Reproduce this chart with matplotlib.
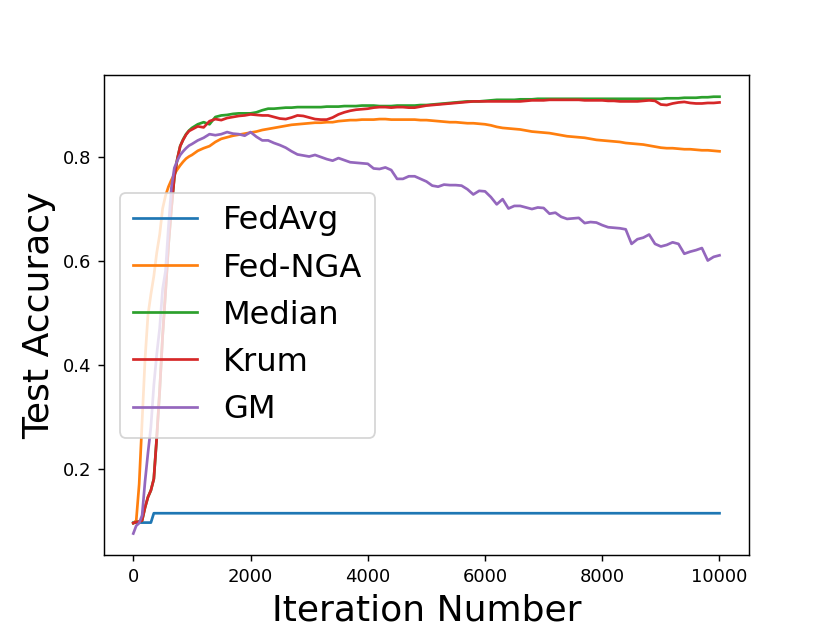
import matplotlib
matplotlib.use("Agg")
import matplotlib.pyplot as plt

iterations = list(range(0, 1000, 50)) + list(range(1000, 10001, 100))

fedavg = [0.096, 0.096, 0.096, 0.096, 0.096, 0.096, 0.096] + [0.114] * (len(iterations) - 7)

fed_nga = [0.095, 0.10, 0.17, 0.29, 0.41, 0.495, 0.535, 0.57, 0.615, 0.65,
           0.70, 0.725, 0.742, 0.755, 0.766, 0.775, 0.783, 0.79, 0.796, 0.80,
           0.803, 0.811, 0.816, 0.82, 0.828, 0.834, 0.837, 0.840, 0.842, 0.844,
           0.846, 0.848, 0.851, 0.853, 0.855, 0.857, 0.859, 0.861, 0.862, 0.863,
           0.864, 0.865, 0.865, 0.866, 0.866, 0.868, 0.869, 0.870, 0.870, 0.871,
           0.871, 0.871, 0.872, 0.872, 0.871, 0.871, 0.871, 0.871, 0.871, 0.870,
           0.870, 0.869, 0.868, 0.867, 0.866, 0.866, 0.865, 0.864, 0.864, 0.863,
           0.862, 0.860, 0.857, 0.855, 0.854, 0.853, 0.852, 0.850, 0.848, 0.847,
           0.846, 0.845, 0.843, 0.841, 0.839, 0.838, 0.837, 0.836, 0.834, 0.832,
           0.831, 0.830, 0.829, 0.828, 0.826, 0.825, 0.824, 0.823, 0.821, 0.819,
           0.817, 0.816, 0.816, 0.815, 0.814, 0.814, 0.813, 0.812, 0.812, 0.811,
           0.810]

median = [0.095, 0.097, 0.098, 0.10, 0.125, 0.145, 0.158, 0.18, 0.26, 0.35,
          0.455, 0.54, 0.63, 0.70, 0.76, 0.795, 0.82, 0.833, 0.843, 0.850,
          0.855, 0.862, 0.866, 0.862, 0.876, 0.879, 0.880, 0.882, 0.883, 0.883,
          0.883, 0.885, 0.889, 0.892, 0.892, 0.893, 0.894, 0.894, 0.895, 0.895,
          0.895, 0.895, 0.895, 0.896, 0.896, 0.896, 0.897, 0.897, 0.897, 0.898,
          0.898, 0.898, 0.897, 0.897, 0.897, 0.898, 0.898, 0.898, 0.898, 0.899,
          0.899, 0.900, 0.901, 0.902, 0.903, 0.904, 0.905, 0.906, 0.906, 0.906,
          0.907, 0.908, 0.909, 0.909, 0.909, 0.909, 0.910, 0.910, 0.910, 0.911,
          0.911, 0.911, 0.911, 0.911, 0.911, 0.911, 0.911, 0.911, 0.911, 0.911,
          0.911, 0.911, 0.911, 0.911, 0.911, 0.911, 0.911, 0.911, 0.911, 0.911,
          0.911, 0.912, 0.912, 0.912, 0.913, 0.913, 0.913, 0.914, 0.914, 0.915,
          0.915]

krum = [0.095, 0.097, 0.098, 0.10, 0.125, 0.145, 0.158, 0.18, 0.26, 0.35,
        0.455, 0.54, 0.63, 0.70, 0.76, 0.795, 0.82, 0.832, 0.842, 0.849,
        0.852, 0.858, 0.856, 0.868, 0.872, 0.870, 0.874, 0.876, 0.878, 0.879,
        0.881, 0.880, 0.879, 0.879, 0.876, 0.873, 0.872, 0.875, 0.879, 0.878,
        0.875, 0.872, 0.871, 0.871, 0.875, 0.881, 0.885, 0.888, 0.890, 0.891,
        0.892, 0.894, 0.895, 0.895, 0.894, 0.895, 0.895, 0.894, 0.894, 0.896,
        0.898, 0.899, 0.900, 0.901, 0.902, 0.903, 0.904, 0.905, 0.906, 0.906,
        0.906, 0.906, 0.906, 0.906, 0.906, 0.906, 0.906, 0.907, 0.908, 0.908,
        0.908, 0.909, 0.909, 0.909, 0.909, 0.909, 0.909, 0.908, 0.908, 0.908,
        0.908, 0.907, 0.907, 0.906, 0.906, 0.906, 0.906, 0.907, 0.908, 0.907,
        0.900, 0.899, 0.902, 0.904, 0.905, 0.903, 0.902, 0.902, 0.903, 0.903,
        0.904]

gm = [0.075, 0.09, 0.095, 0.11, 0.175, 0.23, 0.28, 0.36, 0.42, 0.47,
      0.545, 0.58, 0.665, 0.74, 0.778, 0.792, 0.803, 0.81, 0.816, 0.821,
      0.824, 0.831, 0.836, 0.843, 0.841, 0.843, 0.847, 0.844, 0.843, 0.840,
      0.847, 0.838, 0.831, 0.831, 0.826, 0.822, 0.817, 0.810, 0.804, 0.802,
      0.800, 0.803, 0.799, 0.795, 0.792, 0.797, 0.793, 0.789, 0.788, 0.787,
      0.786, 0.777, 0.776, 0.779, 0.774, 0.757, 0.757, 0.762, 0.762, 0.757,
      0.752, 0.744, 0.742, 0.746, 0.745, 0.745, 0.744, 0.737, 0.727, 0.734,
      0.733, 0.722, 0.708, 0.718, 0.700, 0.705, 0.705, 0.702, 0.699, 0.702,
      0.701, 0.690, 0.692, 0.684, 0.680, 0.681, 0.682, 0.672, 0.674, 0.673,
      0.668, 0.664, 0.663, 0.662, 0.660, 0.632, 0.641, 0.644, 0.650, 0.632,
      0.627, 0.630, 0.635, 0.632, 0.613, 0.617, 0.620, 0.624, 0.600, 0.607,
      0.610]

fig, ax = plt.subplots(figsize=(6.4, 4.8), dpi=130)
ax.plot(iterations, fedavg, label="FedAvg")
ax.plot(iterations, fed_nga, label="Fed-NGA")
ax.plot(iterations, median, label="Median")
ax.plot(iterations, krum, label="Krum")
ax.plot(iterations, gm, label="GM")
ax.set_xlabel("Iteration Number", fontsize=20)
ax.set_ylabel("Test Accuracy", fontsize=20)
ax.legend(loc="center left", fontsize=17.8)
fig.savefig("out.png", dpi=130)
